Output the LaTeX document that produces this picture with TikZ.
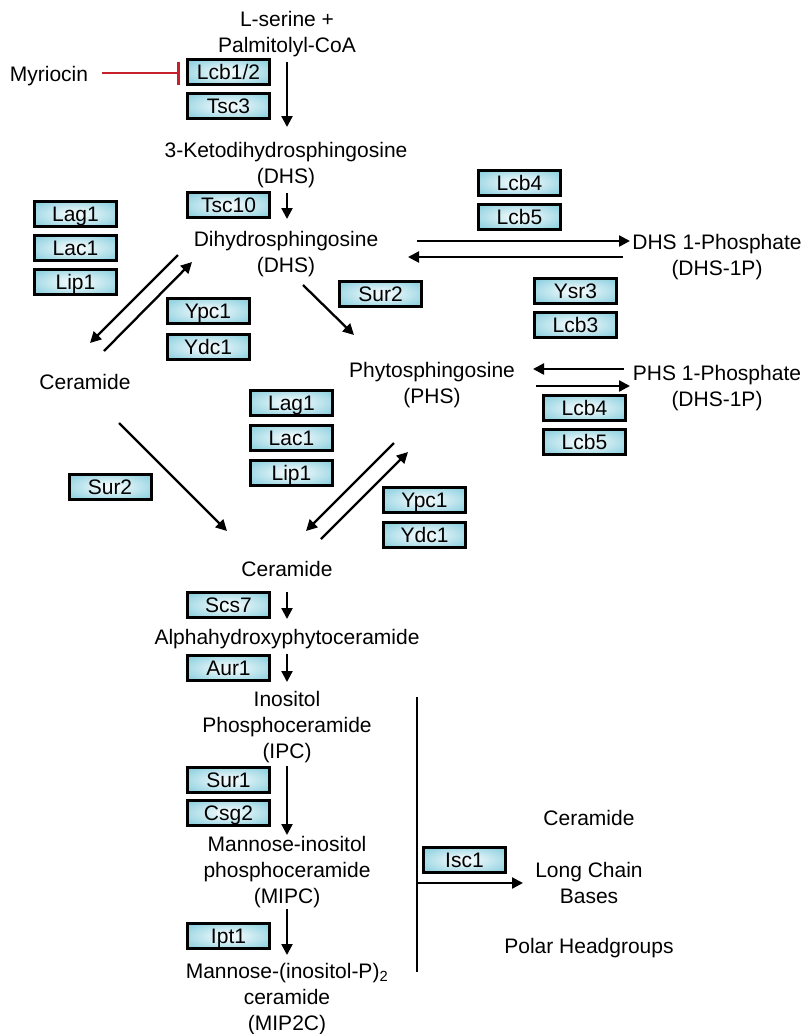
\documentclass[tikz,border=0pt]{standalone}
\usepackage{fontspec}
\setmainfont{Liberation Sans}
\usetikzlibrary{arrows.meta}
\definecolor{boxin}{HTML}{F0F9FB}
\definecolor{boxout}{HTML}{80CBDC}
\definecolor{inhred}{HTML}{C8202A}
\pgfdeclareradialshading{enzshade}{\pgfpoint{0bp}{0bp}}{color(0bp)=(boxin); color(4bp)=(boxin); color(36bp)=(boxout); color(50bp)=(boxout)}
\newcommand{\mlines}[1]{\begin{tabular}[t]{@{}c@{}}#1\end{tabular}}
\begin{document}
\begin{tikzpicture}[x=1pt,y=-1pt,
  every node/.style={font=\fontsize{21}{26}\selectfont, inner sep=0pt},
  txt/.style={anchor=base},
  enz/.style={draw=black, line width=3pt, shading=enzshade,
    minimum width=82pt, minimum height=25pt, text height=15pt, text depth=0pt},
  arr/.style={line width=2.3pt, -{Triangle[length=11pt,width=11pt]}},
  inh/.style={line width=2.6pt, draw=inhred, -{Bar[width=23pt]}},
  plain/.style={line width=2.6pt}]
\useasboundingbox (0,0) rectangle (809,1034);

% metabolite texts
\node[txt] (serine) at (287,26) {\mlines{L-serine +\\Palmitolyl-CoA}};
\node[txt] (myr) at (49,81) {Myriocin};
\node[txt] (keto) at (286,157) {\mlines{3-Ketodihydrosphingosine\\(DHS)}};
\node[txt] (dhs) at (286,246) {\mlines{Dihydrosphingosine\\(DHS)}};
\node[txt] (dhs1p) at (717,249) {\mlines{DHS 1-Phosphate\\(DHS-1P)}};
\node[txt] (phs) at (432,377) {\mlines{Phytosphingosine\\(PHS)}};
\node[txt] (phs1p) at (717,380) {\mlines{PHS 1-Phosphate\\(DHS-1P)}};
\node[txt] (cerL) at (85,389) {Ceramide};
\node[txt] (cerM) at (287,576) {Ceramide};
\node[txt] (alpha) at (287,644) {Alphahydroxyphytoceramide};
\node[txt] (ipc) at (287,706) {\mlines{Inositol\\Phosphoceramide\\(IPC)}};
\node[txt] (mipc) at (287,851) {\mlines{Mannose-inositol\\phosphoceramide\\(MIPC)}};
\node[txt] (mip2c) at (287,978) {\mlines{Mannose-(inositol-P)\textsubscript{2}\\ceramide\\(MIP2C)}};
\node[txt] (cerR) at (589,825) {Ceramide};
\node[txt] (lcb) at (589,877) {\mlines{Long Chain\\Bases}};
\node[txt] (polar) at (589,953) {Polar Headgroups};

% enzymes
\node[enz] (lcb12) at (228.5,72) {Lcb1/2};
\node[enz] (tsc3) at (228.5,105.5) {Tsc3};
\node[enz] (tsc10) at (228.5,205) {Tsc10};
\node[enz] (lag1a) at (75.5,214) {Lag1};
\node[enz] (lac1a) at (75.5,248) {Lac1};
\node[enz] (lip1a) at (75.5,282) {Lip1};
\node[enz] (lcb4a) at (519.5,182.5) {Lcb4};
\node[enz] (lcb5a) at (519.5,216.5) {Lcb5};
\node[enz] (sur2a) at (380.5,293.5) {Sur2};
\node[enz] (ysr3) at (575.5,291) {Ysr3};
\node[enz] (lcb3) at (575.5,324.5) {Lcb3};
\node[enz] (ypc1a) at (208,311) {Ypc1};
\node[enz] (ydc1a) at (208,347) {Ydc1};
\node[enz] (lag1b) at (291.5,402.5) {Lag1};
\node[enz] (lac1b) at (291.5,437.5) {Lac1};
\node[enz] (lip1b) at (291.5,472.5) {Lip1};
\node[enz] (lcb4b) at (584.5,408) {Lcb4};
\node[enz] (lcb5b) at (584.5,442) {Lcb5};
\node[enz] (ypc1b) at (424.5,500) {Ypc1};
\node[enz] (ydc1b) at (424.5,535) {Ydc1};
\node[enz] (sur2b) at (110,486.5) {Sur2};
\node[enz] (scs7) at (228.5,605) {Scs7};
\node[enz] (aur1) at (228.5,668) {Aur1};
\node[enz] (sur1) at (228.5,780) {Sur1};
\node[enz] (csg2) at (228.5,812.5) {Csg2};
\node[enz] (ipt1) at (228.5,936) {Ipt1};
\node[enz] (isc1) at (464.5,860) {Isc1};

% connector end points
\coordinate (m1) at (102,73);   \coordinate (m2) at (180,73);
\coordinate (s1) at (287,62);   \coordinate (s2) at (287,127);
\coordinate (k1) at (287,193);  \coordinate (k2) at (287,219);
\coordinate (d1) at (417,241);  \coordinate (d2) at (630,241);
\coordinate (d3) at (623,257);  \coordinate (d4) at (408,257);
\coordinate (c1) at (178,255);  \coordinate (c2) at (90,343);
\coordinate (c3) at (104,351);  \coordinate (c4) at (192,262);
\coordinate (p1) at (303,285);  \coordinate (p2) at (354,335);
\coordinate (q1) at (624,369);  \coordinate (q2) at (533,369);
\coordinate (q3) at (536,386);  \coordinate (q4) at (630,386);
\coordinate (e1) at (394,443);  \coordinate (e2) at (306,531);
\coordinate (e3) at (321,539);  \coordinate (e4) at (408,452);
\coordinate (l1) at (119,423);  \coordinate (l2) at (227,531);
\coordinate (a1) at (287,592);  \coordinate (a2) at (287,619);
\coordinate (b1) at (287,654);  \coordinate (b2) at (287,682);
\coordinate (f1) at (287,766);  \coordinate (f2) at (287,835);
\coordinate (g1) at (287,909);  \coordinate (g2) at (287,955);
\coordinate (v1) at (417,697);  \coordinate (v2) at (417,972);
\coordinate (h1) at (417,883);  \coordinate (h2) at (523,883);

% connectors
\draw[inh] (m1) -- (m2);
\draw[arr] (s1) -- (s2);
\draw[arr] (k1) -- (k2);
\draw[arr] (d1) -- (d2);
\draw[arr] (d3) -- (d4);
\draw[arr] (c1) -- (c2);
\draw[arr] (c3) -- (c4);
\draw[arr] (p1) -- (p2);
\draw[arr] (q1) -- (q2);
\draw[arr] (q3) -- (q4);
\draw[arr] (e1) -- (e2);
\draw[arr] (e3) -- (e4);
\draw[arr] (l1) -- (l2);
\draw[arr] (a1) -- (a2);
\draw[arr] (b1) -- (b2);
\draw[arr] (f1) -- (f2);
\draw[arr] (g1) -- (g2);
\draw[plain] (v1) -- (v2);
\draw[arr] (h1) -- (h2);
\end{tikzpicture}
\end{document}
